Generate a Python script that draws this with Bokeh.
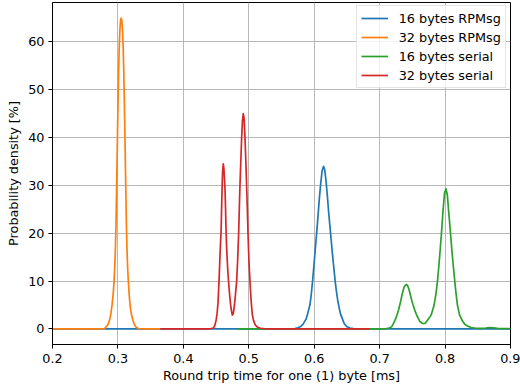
from bokeh.plotting import figure
from bokeh.models import Range1d, FixedTicker, Legend, LegendItem
from bokeh.embed import file_html
from bokeh.resources import INLINE

# ---------------- data ----------------
blue_x = [0.200, 0.563, 0.5705, 0.575, 0.5792, 0.583, 0.5873, 0.590, 0.5934, 0.5955,
          0.5975, 0.600, 0.602, 0.604, 0.606, 0.608, 0.610, 0.612, 0.6143, 0.616,
          0.618, 0.620, 0.622, 0.624, 0.626, 0.628, 0.630, 0.632, 0.634, 0.636,
          0.638, 0.640, 0.6434, 0.646, 0.6495, 0.6545, 0.660, 0.666, 0.900]
blue_y = [0, 0, 0.1, 0.25, 0.5, 1.0, 2, 3.2, 5, 7.2,
          10, 14, 17.3, 20.5, 24, 27.5, 30.5, 33, 34, 33.3,
          31, 28, 24.5, 21.5, 18.5, 15.5, 12.8, 10, 7.8, 5.9,
          4.5, 3.2, 2, 1.1, 0.5, 0.2, 0.08, 0, 0]

orange_x = [0.200, 0.270, 0.279, 0.281, 0.283, 0.285, 0.287, 0.289, 0.291, 0.292,
            0.293, 0.294, 0.295, 0.296, 0.297, 0.298, 0.299, 0.300, 0.301, 0.302,
            0.303, 0.304, 0.305, 0.306, 0.307, 0.308, 0.309, 0.310, 0.311, 0.312,
            0.313, 0.314, 0.315, 0.316, 0.317, 0.318, 0.319, 0.321, 0.323, 0.325,
            0.327, 0.329, 0.331, 0.335, 0.365]
orange_y = [0, 0, 0.05, 0.3, 0.6, 1.0, 1.8, 3.0, 5.0, 6.3,
            7.8, 9.8, 12.5, 16, 21.5, 29.5, 38, 46, 53.5, 59,
            62.5, 64.5, 65, 64.5, 62.5, 59, 53.5, 46, 38, 29.5,
            21.5, 16, 12.3, 9.8, 7.6, 5.8, 4.4, 2.8, 1.8, 1.0,
            0.5, 0.25, 0.1, 0.02, 0]

green_x = [0.484, 0.700, 0.706, 0.7105, 0.714, 0.7166, 0.719, 0.7206, 0.723, 0.725,
           0.7267, 0.729, 0.7308, 0.7325, 0.734, 0.736, 0.7375, 0.7395, 0.7411, 0.743,
           0.745, 0.7472, 0.749, 0.7511, 0.7535, 0.7563, 0.759, 0.7614, 0.7645, 0.7675,
           0.770, 0.7725, 0.775, 0.7772, 0.7792, 0.7812, 0.7832, 0.786, 0.7884, 0.7905,
           0.7925, 0.7945, 0.797, 0.7993, 0.8015, 0.8035, 0.8052, 0.8068, 0.8083, 0.8105,
           0.8127, 0.8148, 0.8168, 0.8189, 0.822, 0.826, 0.830, 0.835, 0.840, 0.847,
           0.855, 0.862, 0.868, 0.874, 0.880, 0.890, 0.900]
green_y = [0, 0, 0.02, 0.08, 0.18, 0.3, 0.6, 1, 1.7, 2.3,
           3, 4, 5, 6, 7, 8.1, 8.8, 9.2, 9.3, 9.0,
           8.2, 7, 6, 5, 4, 3, 2.2, 1.6, 1.25, 1.1,
           1.25, 1.7, 2.2, 2.6, 3.1, 4, 5, 7.3, 10, 13.2,
           16.5, 20, 25, 28.5, 29.3, 28, 25, 22.5, 20, 16.3,
           13, 10, 7.4, 5, 3, 1.8, 1, 0.55, 0.3, 0.15,
           0.12, 0.2, 0.3, 0.25, 0.12, 0.06, 0.05]

red_x = [0.365, 0.440, 0.446, 0.448, 0.450, 0.4515, 0.453, 0.4545, 0.4555, 0.4565,
         0.4577, 0.4585, 0.4593, 0.460, 0.461, 0.462, 0.463, 0.4637, 0.4645, 0.4652,
         0.466, 0.467, 0.468, 0.4693, 0.4705, 0.472, 0.4735, 0.4748, 0.476, 0.477,
         0.478, 0.479, 0.480, 0.4815, 0.483, 0.4845, 0.4855, 0.4865, 0.4878, 0.4891,
         0.4903, 0.4916, 0.4928, 0.4942, 0.4955, 0.4967, 0.4978, 0.4988, 0.5003, 0.5018,
         0.5035, 0.5054, 0.5072, 0.5094, 0.512, 0.5145, 0.518, 0.523, 0.530, 0.685]
red_y = [0, 0, 0.2, 0.7, 1.8, 3.2, 5.5, 10, 13.5, 17,
         20.5, 25.5, 30, 33, 34.5, 33.5, 31, 29, 25, 21,
         17.5, 14.5, 12, 9.5, 7.5, 5.3, 3.8, 2.9, 3.1, 3.8,
         5, 6.2, 7.8, 10, 14.5, 20, 25, 30, 35, 40,
         43.5, 45, 44, 40, 35, 30, 25, 20, 14, 10,
         6, 3, 1.8, 1, 0.5, 0.3, 0.15, 0.05, 0, 0]

series_labels = ["16 bytes RPMsg", "32 bytes RPMsg", "16 bytes serial", "32 bytes serial"]
series_colors = ["#1f77b4", "#ff7f0e", "#2ca02c", "#d62728"]

x_ticks = [0.2, 0.3, 0.4, 0.5, 0.6, 0.7, 0.8, 0.9]
x_tick_labels = ["0.2", "0.3", "0.4", "0.5", "0.6", "0.7", "0.8", "0.9"]
y_ticks = [0, 10, 20, 30, 40, 50, 60]
y_tick_labels = ["0", "10", "20", "30", "40", "50", "60"]

x_label = "Round trip time for one (1) byte [ms]"
y_label = "Probability density [%]"

# ---------------- figure ----------------
FONT = "DejaVu Sans"
FS = "12.8px"

p = figure(width=520, height=387, output_backend="svg", toolbar_location=None,
           x_range=Range1d(0.2, 0.9), y_range=Range1d(-3.25, 68.25),
           min_border_left=52, min_border_right=10, min_border_top=2, min_border_bottom=43)

p.background_fill_color = "white"
p.border_fill_color = "white"
p.outline_line_color = "black"
p.outline_line_width = 1

for ax in (p.xaxis[0], p.yaxis[0]):
    ax.axis_line_color = "black"
    ax.axis_line_width = 1
    ax.major_tick_line_color = "black"
    ax.major_tick_out = 4
    ax.major_tick_in = 0
    ax.minor_tick_line_color = None
    ax.major_label_text_font = FONT
    ax.major_label_text_font_size = FS
    ax.major_label_text_color = "black"
    ax.axis_label_text_font = FONT
    ax.axis_label_text_font_size = FS
    ax.axis_label_text_font_style = "normal"
    ax.axis_label_text_color = "black"

p.xaxis[0].ticker = FixedTicker(ticks=x_ticks)
p.xaxis[0].major_label_overrides = dict(zip(x_ticks, x_tick_labels))
p.yaxis[0].ticker = FixedTicker(ticks=y_ticks)
p.yaxis[0].major_label_overrides = dict(zip(y_ticks, y_tick_labels))
p.xaxis[0].axis_label = x_label
p.yaxis[0].axis_label = y_label
p.xaxis[0].major_label_standoff = 5
p.xaxis[0].axis_label_standoff = 2
p.yaxis[0].major_label_standoff = 4
p.yaxis[0].axis_label_standoff = 4

p.xgrid[0].ticker = FixedTicker(ticks=x_ticks)
p.ygrid[0].ticker = FixedTicker(ticks=y_ticks)
for g in (p.xgrid[0], p.ygrid[0]):
    g.grid_line_color = "#b0b0b0"
    g.grid_line_width = 0.9

xs = [blue_x, orange_x, green_x, red_x]
ys = [blue_y, orange_y, green_y, red_y]
items = []
for x, y, lab, col in zip(xs, ys, series_labels, series_colors):
    r = p.line(x, y, line_color=col, line_width=1.7, line_join="round")
    items.append(LegendItem(label=lab, renderers=[r]))

legend = Legend(items=items, location=(303.7, 256),
                label_text_font=FONT, label_text_font_size=FS, label_text_color="black",
                glyph_width=27, glyph_height=16, label_height=16, label_standoff=11,
                padding=4, spacing=3, margin=0,
                border_line_color="#cccccc", border_line_width=1,
                background_fill_color="white", background_fill_alpha=0.8)
p.add_layout(legend)

open("out.html", "w").write(file_html(p, INLINE))
